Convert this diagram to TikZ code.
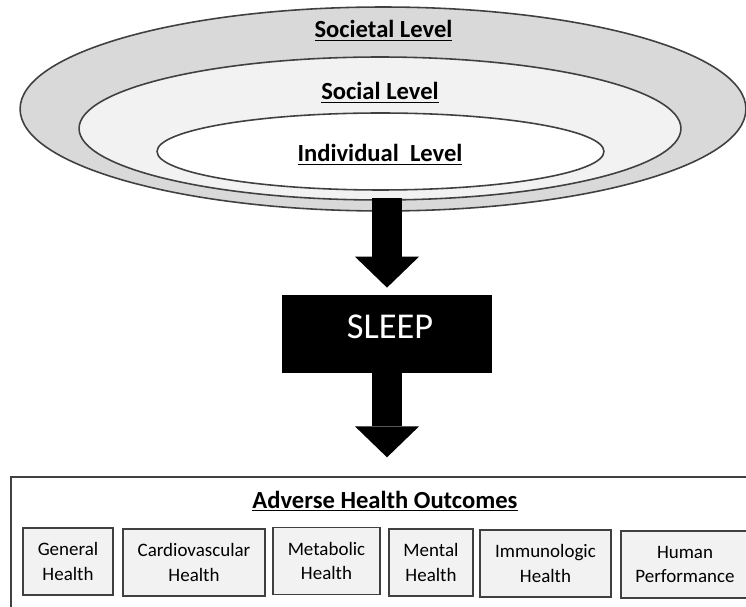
\documentclass[tikz,border=0pt]{standalone}
\usepackage{fontspec}
\setmainfont{Carlito}
\usetikzlibrary{shapes.geometric,arrows.meta,positioning}

\definecolor{lineGray}{HTML}{404040}
\definecolor{bandGray}{HTML}{D9D9D9}
\definecolor{paleGray}{HTML}{F2F2F2}

\tikzset{
  level/.style={ellipse, draw=lineGray, line width=0.9pt, inner sep=0pt},
  leveltext/.style={anchor=base, inner sep=0pt, font=\bfseries\fontsize{14}{16}\selectfont},
  outcome/.style={draw=lineGray, fill=paleGray, line width=0.8pt, minimum height=1.34cm,
    align=center, inner sep=0pt, font=\fontsize{10.8}{14.2}\selectfont},
  blockarrow/.style={line width=17.6pt, -{Triangle[width=36.4pt, length=17.6pt, line width=0pt]}}
}

\begin{document}
\begin{tikzpicture}[x=0.02cm, y=-0.02cm]

% the page
\clip (0,0) rectangle (746,607);
\fill[white] (0,0) rectangle (746,607);

% the three levels
\node[level, fill=bandGray, minimum width=14.52cm, minimum height=4.08cm] (societal) at (383,109) {};
\node[level, fill=paleGray, minimum width=12.04cm, minimum height=2.86cm] (social) at (380,128.5) {};
\node[level, fill=white, minimum width=8.94cm, minimum height=1.54cm] (individual) at (380.5,151.5) {};

\node[leveltext] (societaltext) at (383.5,38) {\underline{Societal Level}};
\node[leveltext] (socialtext) at (380,100) {\underline{Social Level}};
\node[leveltext] (individualtext) at (380,162) {\underline{Individual\ \ Level}};

% sleep
\node[fill=black, minimum width=4.2cm, minimum height=1.56cm, inner sep=0pt] (sleep) at (387,334) {};
\node[anchor=base, text=white, inner sep=0pt, font=\fontsize{20.7}{24}\selectfont] (sleeptext) at (390,338) {SLEEP};

% outcomes frame
\node[draw=lineGray, fill=white, line width=0.8pt, minimum width=14.98cm, minimum height=3.06cm, inner sep=0pt] (outcomes) at (385.5,553.5) {};
\node[anchor=base, inner sep=0pt, font=\bfseries\fontsize{14}{16}\selectfont] (outcomestitle) at (385,508) {\underline{Adverse Health Outcomes}};

\node[outcome, minimum width=1.8cm] (general) at (68,561.5) {General\\Health};
\node[outcome, minimum width=2.84cm] (cardio) at (194,562.5) {Cardiovascular\\Health};
\node[outcome, minimum width=2.14cm] (metabolic) at (326.5,561) {Metabolic\\Health};
\node[outcome, minimum width=1.68cm] (mental) at (431,562.5) {Mental\\Health};
\node[outcome, minimum width=2.62cm] (immuno) at (545.5,563.5) {Immunologic\\Health};
\node[outcome, minimum width=2.56cm] (human) at (685,564.5) {Human\\Performance};

% arrows
\coordinate (arrowtop) at (387,198);
\draw[blockarrow, shorten >=4pt] (arrowtop) -- (arrowtop |- sleep.north);
\draw[blockarrow, shorten >=10.8pt] (sleep.south) -- (sleep.south |- outcomes.north);

\end{tikzpicture}
\end{document}
